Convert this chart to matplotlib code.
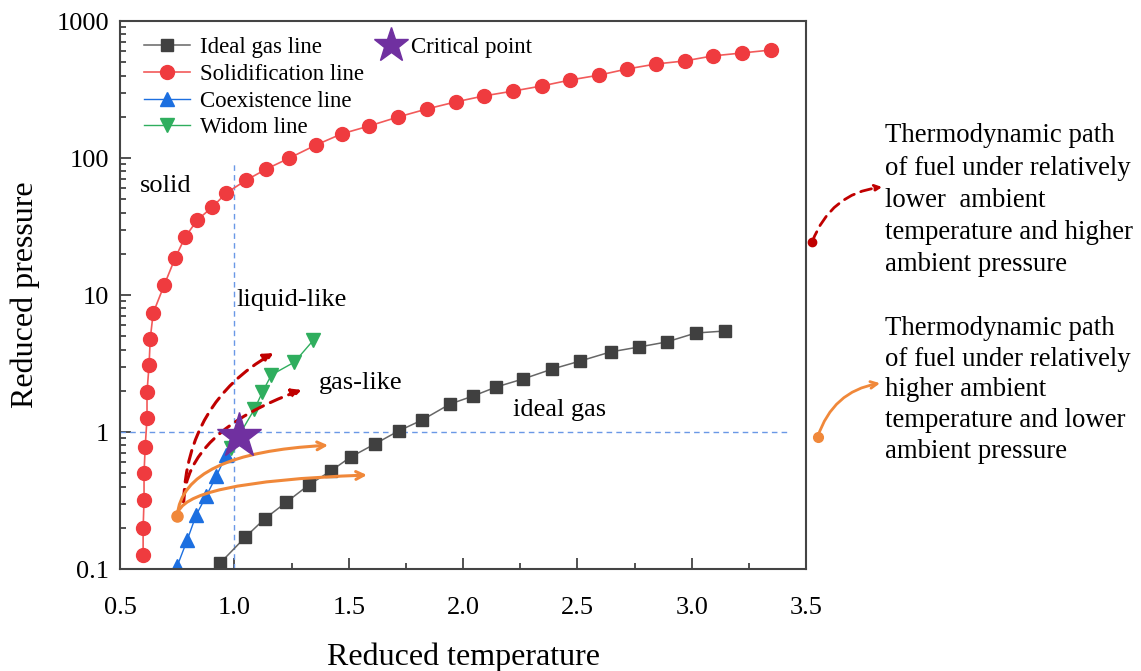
import numpy as np
import matplotlib.pyplot as plt
from matplotlib.lines import Line2D

plt.rcParams['font.family'] = ['Liberation Serif', 'DejaVu Serif']

# Solidification line (red circles)
solid_T = [0.601, 0.601, 0.605, 0.605, 0.610, 0.618, 0.618, 0.627, 0.632, 0.645,
           0.693, 0.741, 0.785, 0.838, 0.904, 0.965, 1.053, 1.140, 1.241, 1.355,
           1.469, 1.588, 1.715, 1.842, 1.969, 2.092, 2.219, 2.346, 2.469, 2.596,
           2.719, 2.846, 2.969, 3.092, 3.219, 3.346]
solid_P = [0.126, 0.199, 0.319, 0.502, 0.778, 1.26, 1.96, 3.08, 4.77, 7.39,
           11.8, 18.6, 26.5, 35.3, 43.9, 55.6, 69.1, 83.1, 100, 124,
           150, 171, 199, 228, 257, 284, 308, 336, 371, 403,
           447, 486, 511, 556, 584, 614]

# Ideal gas line (black squares)
ideal_T = [0.939, 1.048, 1.132, 1.228, 1.325, 1.421, 1.509, 1.614, 1.719, 1.820,
           1.943, 2.044, 2.145, 2.263, 2.390, 2.513, 2.645, 2.768, 2.890, 3.018, 3.145]
ideal_P = [0.111, 0.171, 0.232, 0.308, 0.410, 0.519, 0.657, 0.817, 1.02, 1.22,
           1.60, 1.83, 2.13, 2.44, 2.88, 3.30, 3.84, 4.17, 4.54, 5.28, 5.46]

# Coexistence line (blue triangles)
coex_T = [0.750, 0.794, 0.833, 0.877, 0.921, 0.965, 1.0]
coex_P = [0.105, 0.163, 0.248, 0.341, 0.477, 0.679, 0.90]

# Widom line (green triangles)
widom_T = [0.987, 1.088, 1.123, 1.162, 1.263, 1.346]
widom_P = [0.76, 1.47, 1.96, 2.61, 3.24, 4.69]

# Critical point and reference lines
crit_T, crit_P = 1.02, 0.93
ref_T, ref_P = 1.0, 1.0
vline_top = 92
hline_right = 3.42

# Thermodynamic paths (start, end) in data units
path_start = (0.75, 0.245)
red_start = (0.778, 0.31)
red_ends = [(1.171, 3.77), (1.294, 2.03)]
red_angles = [30, 20]
orange_ends = [(1.41, 0.80), (1.58, 0.485)]
orange_angles = [3, 2]

c_red = '#ef3b3f'
c_black = '#404040'
c_blue = '#1c6fe0'
c_green = '#2fae5e'
c_star = '#7030a0'
c_dash = '#6a98e6'
c_dred = '#c00000'
c_orange = '#f0883a'

fig = plt.figure(figsize=(11.41, 6.71), dpi=100)
ax = fig.add_axes([0.1052, 0.152, 0.6012, 0.8167])

ax.plot([ref_T, ref_T], [0.1, vline_top], ls='--', color=c_dash, lw=1.0, dashes=(4, 3))
ax.plot([0.5, hline_right], [ref_P, ref_P], ls='--', color=c_dash, lw=1.0, dashes=(4, 3))

ax.plot(ideal_T, ideal_P, '-s', color='#666666', mfc=c_black, mec=c_black, ms=9, lw=1.1,
        label='Ideal gas line')
ax.plot(solid_T, solid_P, '-o', color='#f25a5a', mfc=c_red, mec=c_red, ms=10, lw=1.2,
        label='Solidification line')
ax.plot(coex_T, coex_P, '-^', color=c_blue, mfc=c_blue, mec=c_blue, ms=10, lw=1.0,
        label='Coexistence line')
ax.plot(widom_T, widom_P, '-v', color=c_green, mfc=c_green, mec=c_green, ms=10, lw=1.0,
        label='Widom line')
ax.plot([crit_T], [crit_P], '*', color=c_star, ms=34, zorder=5)

# thermodynamic paths
for end, angB in zip(red_ends, red_angles):
    ax.annotate('', xy=end, xytext=red_start,
                arrowprops=dict(arrowstyle='-|>', color=c_dred, lw=2.2, ls=(0, (4, 2.5)),
                                mutation_scale=14,
                                connectionstyle=f'angle3,angleA=88,angleB={angB}',
                                shrinkA=0, shrinkB=0))
for end, angB in zip(orange_ends, orange_angles):
    ax.annotate('', xy=end, xytext=path_start,
                arrowprops=dict(arrowstyle='->', color=c_orange, lw=2.2,
                                mutation_scale=14,
                                connectionstyle=f'angle3,angleA=85,angleB={angB}',
                                shrinkA=0, shrinkB=0))
ax.plot([path_start[0]], [path_start[1]], 'o', color=c_orange, ms=8, zorder=6)

ax.set_yscale('log')
ax.set_xlim(0.5, 3.5)
ax.set_ylim(0.1, 1000)

ax.set_xticks([0.5, 1.0, 1.5, 2.0, 2.5, 3.0, 3.5])
ax.set_xticks(np.arange(0.75, 3.5, 0.5), minor=True)
ax.set_yticks([0.1, 1, 10, 100, 1000])
ax.set_yticklabels(['0.1', '1', '10', '100', '1000'])
ax.tick_params(which='both', direction='in', labelsize=19, top=False, right=False,
               color='#333333', width=1.2)
ax.tick_params(which='major', length=8)
ax.tick_params(which='minor', length=4)
ax.tick_params(axis='x', which='major', pad=20)
ax.tick_params(axis='y', which='major', pad=8)
for s in ax.spines.values():
    s.set_color('#444444')
    s.set_linewidth(1.5)

ax.set_xlabel('Reduced temperature', fontsize=23, labelpad=17)
ax.set_ylabel('Reduced pressure', fontsize=23, labelpad=12)

ax.text(0.588, 62, 'solid', fontsize=19, va='center', ha='left')
ax.text(1.01, 9.2, 'liquid-like', fontsize=19, va='center', ha='left')
ax.text(1.37, 2.28, 'gas-like', fontsize=19, va='center', ha='left')
ax.text(2.22, 1.45, 'ideal gas', fontsize=19, va='center', ha='left')

leg1 = ax.legend(loc='upper left', bbox_to_anchor=(0.012, 1.0), frameon=False, fontsize=16.5,
                 handlelength=2.0, handletextpad=0.45, labelspacing=0.25, borderaxespad=0.3)
ax.add_artist(leg1)
star_h = Line2D([], [], marker='*', ls='none', color=c_star, ms=26)
ax.legend(handles=[star_h], labels=['Critical point'], loc='upper left',
          bbox_to_anchor=(0.355, 1.0), frameon=False, fontsize=16.5, handlelength=1.0,
          handletextpad=0.35, borderaxespad=0.3)

# side notes
txt1 = 'Thermodynamic path\nof fuel under relatively\nlower  ambient\ntemperature and higher\nambient pressure'
txt2 = 'Thermodynamic path\nof fuel under relatively\nhigher ambient\ntemperature and lower\nambient pressure'
ax.text(1.115, 0.813, txt1, transform=ax.transAxes, fontsize=19.3, va='top', ha='left',
        linespacing=1.37)
ax.text(1.115, 0.462, txt2, transform=ax.transAxes, fontsize=19.3, va='top', ha='left',
        linespacing=1.3)
ax.annotate('', xy=(1.111, 0.697), xytext=(1.009, 0.597), xycoords='axes fraction',
            arrowprops=dict(arrowstyle='-|>', color=c_dred, lw=2.0, ls=(0, (4, 2.5)),
                            mutation_scale=10, connectionstyle='arc3,rad=-0.3',
                            shrinkA=0, shrinkB=0), annotation_clip=False)
ax.plot([1.009], [0.597], 'o', color=c_dred, ms=6, transform=ax.transAxes, clip_on=False)
ax.annotate('', xy=(1.108, 0.339), xytext=(1.017, 0.241), xycoords='axes fraction',
            arrowprops=dict(arrowstyle='->', color=c_orange, lw=2.0,
                            mutation_scale=12, connectionstyle='arc3,rad=-0.3',
                            shrinkA=0, shrinkB=0), annotation_clip=False)
ax.plot([1.017], [0.241], 'o', color=c_orange, ms=7, transform=ax.transAxes, clip_on=False)

fig.savefig('out.png', dpi=100)
